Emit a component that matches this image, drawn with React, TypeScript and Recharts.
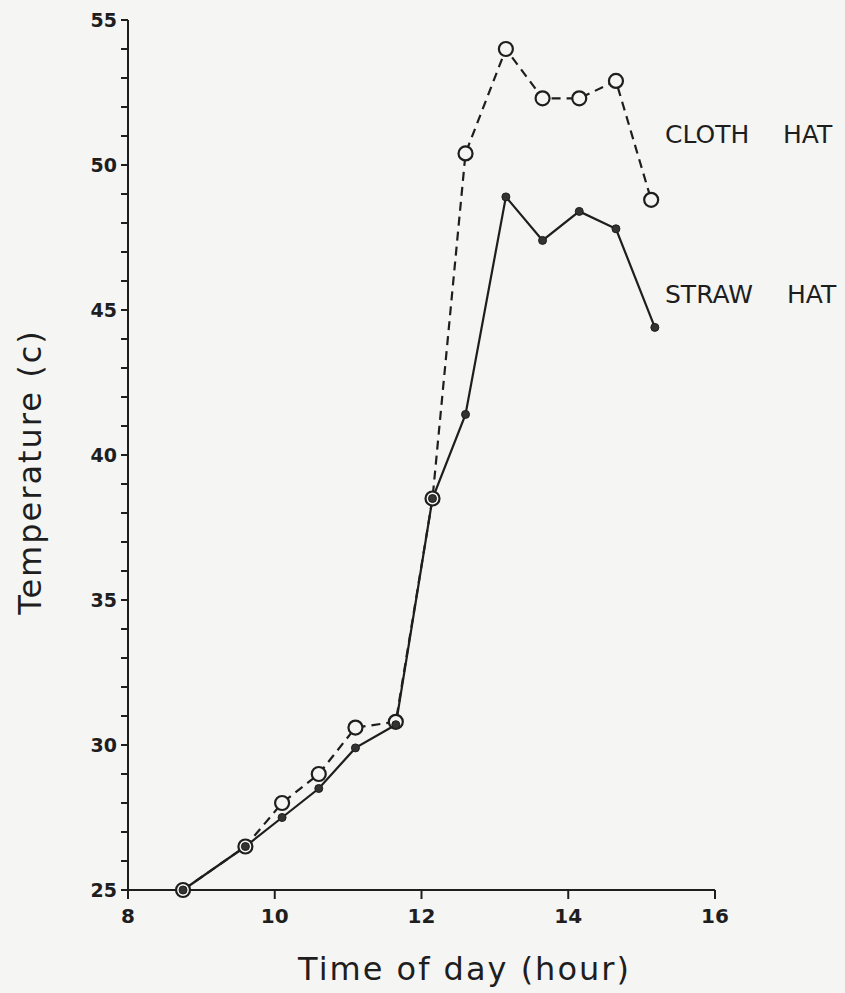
import { LineChart, Line, XAxis, YAxis } from "recharts";

// hour of day at each reading
const clothHours = [8.75, 9.6, 10.1, 10.6, 11.1, 11.65, 12.15, 12.6, 13.15, 13.65, 14.15, 14.65, 15.13];
const clothTemps = [25, 26.5, 28.0, 29.0, 30.6, 30.8, 38.5, 50.4, 54.0, 52.3, 52.3, 52.9, 48.8];

const strawHours = [8.75, 9.6, 10.1, 10.6, 11.1, 11.65, 12.15, 12.6, 13.15, 13.65, 14.15, 14.65, 15.18];
const strawTemps = [25, 26.5, 27.5, 28.5, 29.9, 30.7, 38.5, 41.4, 48.9, 47.4, 48.4, 47.8, 44.4];

const xTicks = [8, 10, 12, 14, 16];
const yTicks = Array.from({ length: 31 }, (_, i) => 25 + i);

const font = "'DejaVu Sans', sans-serif";
const ink = "#1e1e1e";
const paper = "#f5f5f4";

const clothData = clothHours.map((h, i) => ({ hour: h, temp: clothTemps[i] }));
const strawData = strawHours.map((h, i) => ({ hour: h, temp: strawTemps[i] }));

export default function App() {
  return (
    <div
      style={{
        position: "absolute",
        left: 0,
        top: 0,
        width: 845,
        height: 993,
        background: paper,
      }}
    >
      <LineChart
        width={845}
        height={993}
        margin={{ top: 20, right: 130, left: 0, bottom: 0 }}
      >
        <XAxis
          dataKey="hour"
          type="number"
          domain={[8, 16]}
          ticks={xTicks}
          allowDataOverflow
          height={103}
          tickSize={9}
          tickMargin={10}
          stroke={ink}
          strokeWidth={2}
          tick={{ fontSize: 20, fill: ink, fontFamily: font, fontWeight: "bold" }}
          label={{
            value: "Time of day (hour)",
            position: "center",
            dx: 43,
            dy: 27,
            style: { fontSize: 32, fill: ink, fontFamily: font, letterSpacing: 2 },
          }}
        />
        <YAxis
          type="number"
          domain={[25, 55]}
          ticks={yTicks}
          interval={0}
          width={128}
          tickSize={7}
          tickMargin={4}
          stroke={ink}
          strokeWidth={2}
          tickFormatter={(v: number) => (v % 5 === 0 ? String(v) : "")}
          tick={{ fontSize: 19, fill: ink, fontFamily: font, fontWeight: "bold" }}
          label={{
            value: "Temperature (c)",
            angle: -90,
            position: "center",
            dx: -34,
            dy: 17,
            style: { fontSize: 32, fill: ink, fontFamily: font, letterSpacing: 2, textAnchor: "middle" },
          }}
        />
        <Line
          data={clothData}
          dataKey="temp"
          type="linear"
          stroke={ink}
          strokeWidth={2.2}
          strokeDasharray="9 6"
          dot={{ r: 7, fill: paper, stroke: ink, strokeWidth: 2.2, strokeDasharray: "" }}
          isAnimationActive={false}
        />
        <Line
          data={strawData}
          dataKey="temp"
          type="linear"
          stroke={ink}
          strokeWidth={2.2}
          dot={{ r: 4, fill: "#333", stroke: ink, strokeWidth: 1 }}
          isAnimationActive={false}
        />
        <text x={665} y={143} fontSize={25} fill={ink} fontFamily={font}>CLOTH</text>
        <text x={783} y={143} fontSize={25} fill={ink} fontFamily={font}>HAT</text>
        <text x={665} y={303} fontSize={25} fill={ink} fontFamily={font}>STRAW</text>
        <text x={787} y={303} fontSize={25} fill={ink} fontFamily={font}>HAT</text>
      </LineChart>
    </div>
  );
}
